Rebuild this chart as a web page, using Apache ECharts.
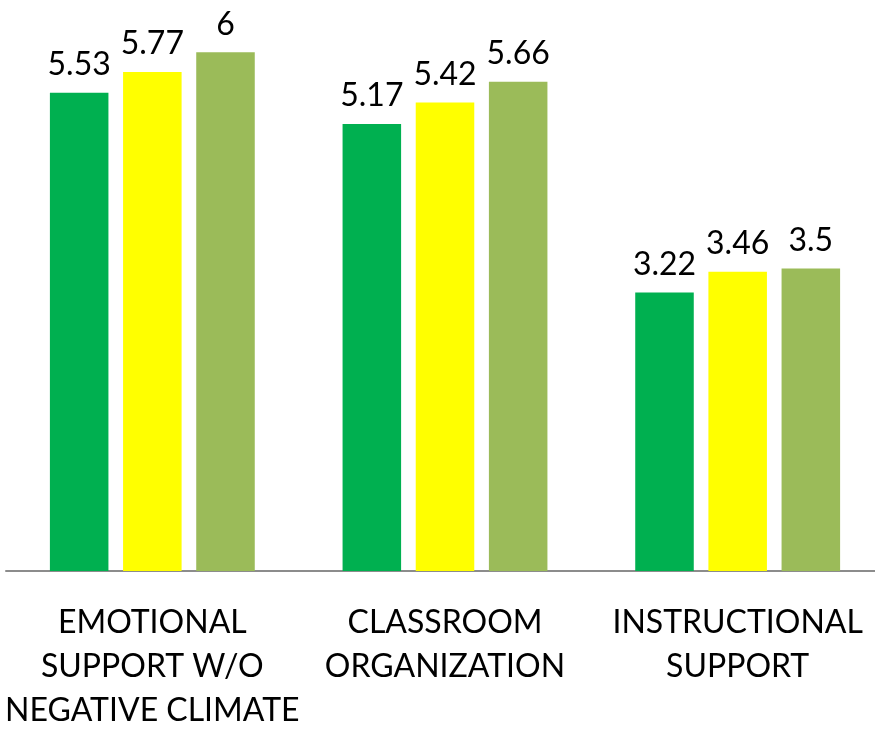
<!DOCTYPE html>
<html>
<head>
    <meta charset="utf-8"/>
    <title>CLASS domains</title>
    <script src="https://cdn.jsdelivr.net/npm/echarts@6/dist/echarts.min.js"></script>
    <style>
        html, body { margin: 0; padding: 0; background: #fff; overflow: hidden; }
    </style>
</head>
<body>
<!-- the original chart is cropped on the right, so the plot runs a little past the window edge -->
<div style="width: 875px;height: 733px;overflow: hidden;">
    <div id="main" style="width: 884px;height: 733px;"></div>
</div>
<script type="text/javascript">
    // categories (line breaks as in the original axis labels)
    var categories = ['EMOTIONAL\nSUPPORT W/O\nNEGATIVE CLIMATE', 'CLASSROOM\nORGANIZATION', 'INSTRUCTIONAL\nSUPPORT'];

    // three series, one colour each
    var seriesA = [5.53, 5.17, 3.22];
    var seriesB = [5.77, 5.42, 3.46];
    var seriesC = [6, 5.66, 3.5];
    var colors = ['#00B050', '#FFFF00', '#9BBB59'];

    var fontFamily = 'Lato, "Open Sans", sans-serif';

    function bar(data, color) {
        return {
            type: 'bar',
            data: data,
            barGap: '25%',
            barCategoryGap: '30%',
            itemStyle: {color: color},
            label: {
                show: true,
                position: 'top',
                distance: 12,
                color: '#000',
                fontSize: 32,
                fontFamily: fontFamily
            }
        };
    }

    var myChart = echarts.init(document.getElementById('main'));

    myChart.setOption({
        animation: false,
        grid: {left: 6, right: 0, top: 9, bottom: 156},
        xAxis: {
            type: 'category',
            data: categories,
            axisTick: {show: false},
            axisLine: {lineStyle: {color: '#8c8c8c', width: 2}},
            axisLabel: {
                color: '#000',
                fontSize: 32,
                fontFamily: fontFamily,
                lineHeight: 44,
                margin: 30,
                interval: 0
            }
        },
        yAxis: {
            type: 'value',
            min: 0,
            max: 6.5,
            show: false,
            splitLine: {show: false}
        },
        series: [bar(seriesA, colors[0]), bar(seriesB, colors[1]), bar(seriesC, colors[2])]
    });
</script>
</body>
</html>
